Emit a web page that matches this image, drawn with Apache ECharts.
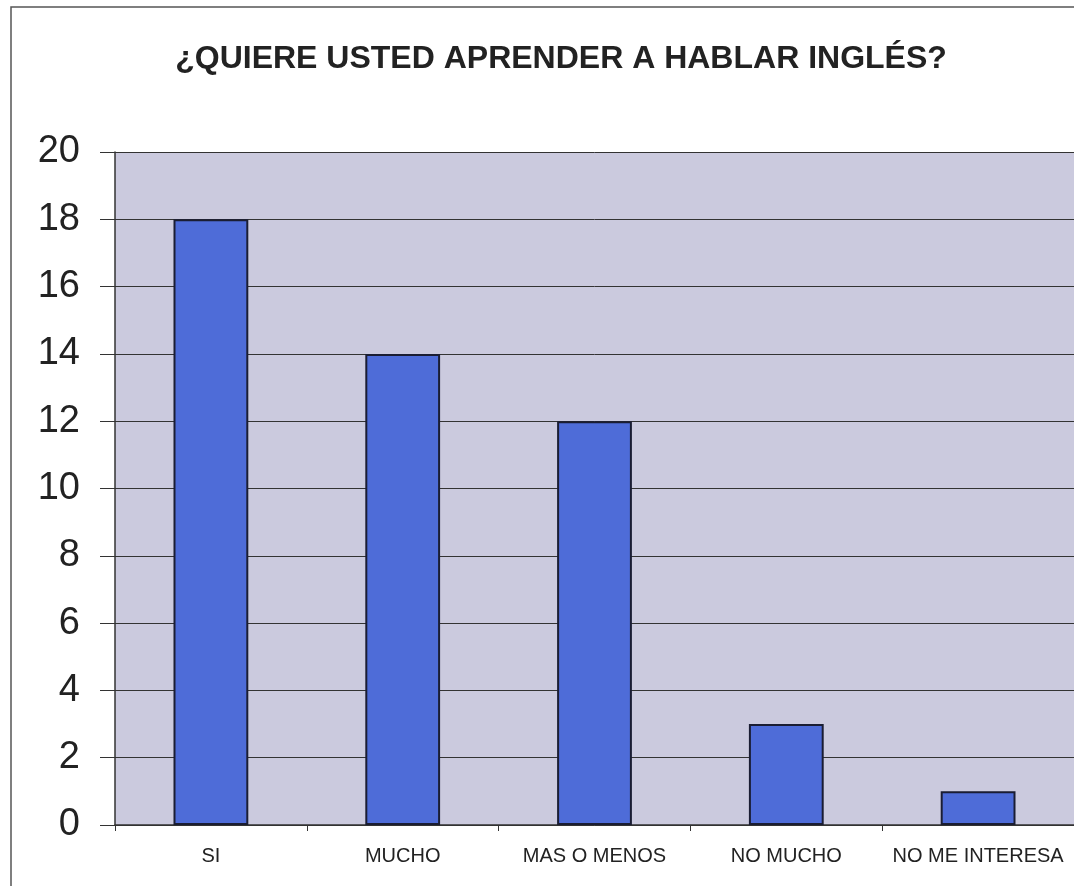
<!DOCTYPE html>
<html>
<head>
<meta charset="utf-8">
<script src="https://cdn.jsdelivr.net/npm/echarts@6/dist/echarts.min.js"></script>
<style>
  html, body { margin: 0; padding: 0; background: #fff; }
  #chart { width: 1074px; height: 886px; }
</style>
</head>
<body>
<div id="chart"></div>
<script>
const categories = ['SI', 'MUCHO', 'MAS O MENOS', 'NO MUCHO', 'NO ME INTERESA']
const respuestas = [18, 14, 12, 3, 1]
const yTicks = { min: 0, max: 20, interval: 2 }

const myChart = echarts.init(document.getElementById('chart'))

const option = {
  backgroundColor: '#ffffff',
  animation: false,
  title: {
    text: '¿QUIERE USTED APRENDER A HABLAR INGLÉS?',
    left: 556,
    textAlign: 'center',
    top: 38,
    textStyle: {
      fontFamily: 'Liberation Sans, Arial, sans-serif',
      fontSize: 32,
      fontWeight: 'bold',
      color: '#222'
    }
  },
  graphic: [
    {
      type: 'polyline',
      shape: { points: [[11, 886], [11, 7], [1074, 7]] },
      style: { stroke: '#555', lineWidth: 1.5, fill: null }
    }
  ],
  grid: {
    left: 115,
    top: 152,
    width: 967,
    height: 673,
    show: true,
    backgroundColor: '#cbcade',
    borderWidth: 0
  },
  xAxis: {
    type: 'category',
    data: categories,
    axisLine: { lineStyle: { color: '#333', width: 1.5 } },
    axisTick: { show: true, interval: 0, length: 6, lineStyle: { color: '#333' } },
    axisLabel: {
      interval: 0,
      hideOverlap: false,
      fontFamily: 'Liberation Sans, Arial, sans-serif',
      fontSize: 20,
      color: '#222',
      margin: 21
    }
  },
  yAxis: {
    type: 'value',
    min: yTicks.min,
    max: yTicks.max,
    interval: yTicks.interval,
    axisLine: { show: true, lineStyle: { color: '#333', width: 1.5 } },
    axisTick: { show: true, length: 15, lineStyle: { color: '#333' } },
    axisLabel: {
      fontFamily: 'Liberation Sans, Arial, sans-serif',
      fontSize: 38,
      color: '#222',
      margin: 35
    },
    splitLine: { lineStyle: { color: '#333', width: 1 } }
  },
  series: [
    {
      name: 'respuestas',
      type: 'bar',
      data: respuestas,
      barWidth: '39%',
      itemStyle: {
        color: '#4e6cd8',
        borderColor: '#1a1d33',
        borderWidth: 2
      }
    }
  ]
}

myChart.setOption(option)
</script>
</body>
</html>
